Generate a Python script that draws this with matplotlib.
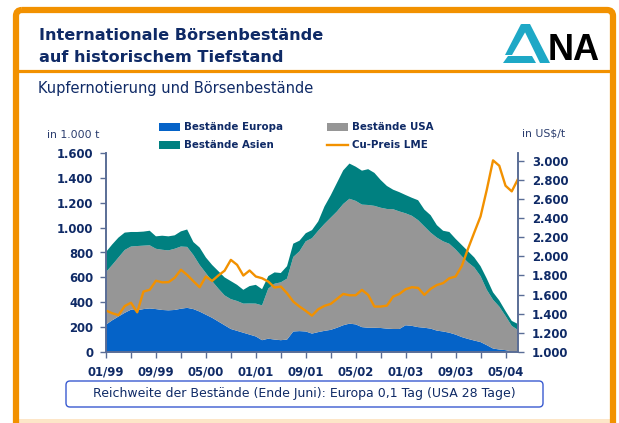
import numpy as np
import matplotlib.pyplot as plt
from matplotlib.patches import Rectangle, FancyBboxPatch, Polygon
from matplotlib.ticker import FuncFormatter

# monthly values 01/1999 .. 07/2004 (in 1.000 t)
europa = [220, 255, 285, 315, 340, 335, 345, 350, 345, 338, 335, 338, 348, 355, 345, 325,
          300, 275, 245, 215, 185, 170, 155, 140, 125, 95, 107, 100, 95, 100, 165, 168,
          165, 148, 160, 170, 178, 195, 215, 228, 222, 200, 195, 195, 193, 188, 185, 185,
          215, 210, 200, 195, 188, 172, 165, 155, 140, 120, 105, 92, 80, 55, 28, 20,
          15, 5, 0]
usa = [423, 445, 475, 505, 508, 517, 510, 508, 485, 484, 482, 492, 500, 490, 435, 375,
       335, 295, 265, 240, 240, 240, 234, 250, 264, 280, 403, 449, 465, 490, 599, 642,
       725, 767, 815, 860, 902, 935, 975, 1004, 993, 985, 987, 980, 967, 962, 963, 945,
       900, 885, 860, 815, 772, 748, 725, 715, 685, 650, 615, 588, 530, 445, 392, 345,
       275, 205, 177]
asien = [161, 165, 160, 140, 117, 113, 113, 117, 100, 113, 113, 108, 122, 140, 104, 140,
         125, 130, 140, 145, 145, 130, 111, 140, 151, 130, 100, 91, 75, 100, 107, 85,
         65, 65, 75, 140, 180, 230, 270, 283, 275, 273, 288, 265, 223, 185, 157, 155,
         147, 145, 160, 135, 140, 100, 85, 95, 85, 90, 90, 80, 80, 90, 60, 50,
         40, 40, 48]
# Cu-Preis LME in US$/t
preis = [1433, 1405, 1385, 1480, 1515, 1415, 1632, 1650, 1745, 1728, 1730, 1775, 1860, 1806, 1740, 1677,
         1789, 1743, 1800, 1850, 1963, 1911, 1799, 1852, 1789, 1771, 1736, 1674, 1684, 1614, 1527, 1475,
         1430, 1380, 1447, 1482, 1503, 1555, 1607, 1593, 1593, 1649, 1597, 1475, 1475, 1485, 1579, 1607,
         1656, 1677, 1670, 1597, 1660, 1700, 1720, 1771, 1789, 1900, 2080, 2250, 2417, 2696, 3003, 2947,
         2738, 2679, 2808]
x_labels = ['01/99', '09/99', '05/00', '01/01', '09/01', '05/02', '01/03', '09/03', '05/04']

navy = '#0f2a66'
orange = '#f29100'
spine_col = '#5a6d96'
months = np.arange(len(europa))

fig = plt.figure(figsize=(6.19, 4.23), dpi=100)

# background layer in pixel coordinates (frame, titles, legend, logo)
bg = fig.add_axes([0, 0, 1, 1])
bg.set_xlim(0, 619)
bg.set_ylim(423, 0)
bg.axis('off')
bg.add_patch(Rectangle((16, 419), 596, 6, color='#fde6c8', lw=0))
bg.add_patch(FancyBboxPatch((16, 10), 597, 440, boxstyle='round,pad=0,rounding_size=6',
                            fill=False, ec=orange, lw=4.5))
bg.plot([16, 613], [71.5, 71.5], color=orange, lw=2.3)
bg.text(39, 35, 'Internationale Börsenbestände', fontsize=11.6, fontweight='bold',
        color=navy, va='center')
bg.text(39, 57, 'auf historischem Tiefstand', fontsize=11.6, fontweight='bold',
        color=navy, va='center')
bg.text(38, 88, 'Kupfernotierung und Börsenbestände', fontsize=10.5, color=navy, va='center')

# logo
logo_col = '#1ea8c6'
bg.add_patch(Polygon([(521, 24), (530, 24), (550, 63), (540, 63)], color=logo_col, lw=0))
bg.add_patch(Polygon([(521, 24), (527, 29), (512, 55), (505, 55)], color=logo_col, lw=0))
bg.add_patch(Polygon([(503, 63), (508, 56), (532, 56), (536, 63)], color=logo_col, lw=0))
bg.text(574, 50.5, 'NA', family='Liberation Sans', fontsize=26, fontweight='bold',
        color='black', ha='center', va='center')

# legend
bg.add_patch(Rectangle((159, 123), 21, 8, color='#0563c8', lw=0))
bg.add_patch(Rectangle((159, 141), 21, 8, color='#008080', lw=0))
bg.add_patch(Rectangle((327, 123), 21, 8, color='#969696', lw=0))
bg.plot([327, 348], [145, 145], color=orange, lw=1.7)
leg = dict(fontsize=7.4, fontweight='bold', color=navy, va='center')
bg.text(184, 127, 'Bestände Europa', **leg)
bg.text(184, 145, 'Bestände Asien', **leg)
bg.text(352, 127, 'Bestände USA', **leg)
bg.text(352, 145, 'Cu-Preis LME', **leg)

bg.text(47, 135, 'in 1.000 t', fontsize=7.8, color='#2b3d6e', va='center')
bg.text(522, 133, 'in US$/t', fontsize=7.8, color='#2b3d6e', va='center')

# note box at the bottom
bg.text(304, 394, 'Reichweite der Bestände (Ende Juni): Europa 0,1 Tag (USA 28 Tage)',
        fontsize=9, color=navy, ha='center', va='center')
bg.add_patch(FancyBboxPatch((66, 381), 477, 26, boxstyle='round,pad=0,rounding_size=4',
                            fill=False, ec='#3a5bd0', lw=1.0))

# main chart
ax = fig.add_axes([106 / 619, 1 - 352 / 423, 412 / 619, 199 / 423])
ax.set_zorder(2)
ax.patch.set_alpha(0)
ax.stackplot(months, europa, usa, asien, colors=['#0563c8', '#969696', '#008080'], lw=0)
ax.set_xlim(0, 66)
ax.set_ylim(0, 1600)
ax.set_yticks(np.arange(0, 1601, 200))
ax.yaxis.set_major_formatter(FuncFormatter(lambda v, p: f'{v:,.0f}'.replace(',', '.')))
ax.set_xticks(np.arange(0, 65, 8))
ax.set_xticklabels(x_labels)
ax.set_xticks(np.arange(4, 65, 8), minor=True)

ax2 = ax.twinx()
ax2.plot(months, preis, color=orange, lw=1.7)
ax2.set_ylim(1000, 3080)
ax2.set_yticks(np.arange(1000, 3001, 200))
ax2.yaxis.set_major_formatter(FuncFormatter(lambda v, p: f'{v:,.0f}'.replace(',', '.')))

for a in (ax, ax2):
    a.spines['top'].set_visible(False)
    for s in a.spines.values():
        s.set_color(spine_col)
        s.set_linewidth(1.2)
    a.tick_params(axis='both', which='both', length=4, width=1, color=spine_col,
                  labelsize=8.4, labelcolor=navy)
    for lab in a.get_xticklabels() + a.get_yticklabels():
        lab.set_fontweight('bold')
ax.tick_params(axis='x', pad=6)
ax.tick_params(axis='y', pad=5)
ax2.tick_params(axis='y', pad=6)

fig.savefig('out.png', dpi=100)
